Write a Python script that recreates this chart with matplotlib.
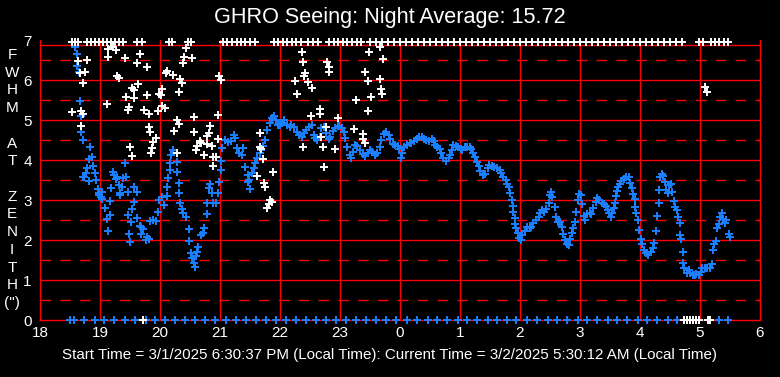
import numpy as np
import matplotlib
matplotlib.use("Agg")
import matplotlib.pyplot as plt

plt.rcParams["font.family"] = ["Liberation Sans", "DejaVu Sans"]
plt.rcParams["lines.scale_dashes"] = False

# hours since midnight of 3/1 (24 = 0h of 3/2)
blue_t = [18.53, 18.58, 18.61, 18.62, 18.65, 18.66, 18.68, 18.69, 18.71, 18.84, 18.86, 18.82,
          18.88, 18.79, 18.77, 18.74, 18.72, 18.92, 18.81, 18.94, 18.96, 18.99, 18.98, 19.01,
          19.04, 19.03, 19.08, 19.11, 19.16, 19.14, 19.18, 19.17, 19.21, 19.23, 19.28, 19.27,
          19.41, 19.43, 19.39, 19.31, 19.37, 19.34, 19.33, 19.46, 19.57, 19.61, 19.56, 19.54,
          19.47, 19.62, 19.52, 19.66, 19.69, 19.72, 19.49, 19.68, 19.50, 19.78, 19.81, 19.77,
          19.84, 19.89, 19.94, 19.97, 19.99,
          20.03, 20.07, 20.11, 20.12, 20.14, 20.16, 20.17, 20.19, 20.22, 20.28, 20.29, 20.31,
          20.32, 20.34, 20.36, 20.39, 20.43, 20.48, 20.49, 20.51, 20.53, 20.56, 20.58, 20.60,
          20.64, 20.61, 20.69, 20.72, 20.74, 20.78, 20.79, 20.83, 20.82, 20.86, 20.89, 20.93,
          20.97, 20.99, 21.01, 21.02, 21.04, 21.08, 21.14, 21.19, 21.25, 21.24, 21.29, 21.32,
          21.36, 21.39, 21.42, 21.46, 21.49, 21.50, 21.47, 21.53, 21.57, 21.58, 21.61, 21.66,
          21.69, 21.72, 21.75, 21.79, 21.83, 21.86, 21.90, 21.94, 21.97,
          22.00, 22.03, 22.07, 22.11, 22.16, 22.19, 22.23, 22.28, 22.32, 22.36, 22.40, 22.44,
          22.49, 22.53, 22.56, 22.58, 22.61, 22.66, 22.69, 22.73, 22.77, 22.81, 22.83, 22.88,
          22.92, 22.96, 22.99, 23.03, 23.07, 23.09, 23.12, 23.16, 23.18, 23.21, 23.25, 23.29,
          23.33, 23.38, 23.42, 23.46, 23.50, 23.54, 23.58, 23.62, 23.67, 23.69, 23.73, 23.77,
          23.81, 23.83, 23.88, 23.92, 23.96, 23.99,
          24.01, 24.04, 24.07, 24.11, 24.16, 24.19, 24.23, 24.28, 24.32, 24.36, 24.40, 24.44,
          24.49, 24.53, 24.56, 24.58, 24.62, 24.66, 24.69, 24.72, 24.77, 24.81, 24.83, 24.86,
          24.89, 24.93, 24.97, 25.01, 25.04, 25.08, 25.12, 25.17, 25.19, 25.22, 25.25, 25.29,
          25.32, 25.34, 25.38, 25.42, 25.46, 25.49, 25.53, 25.57, 25.61, 25.66, 25.69, 25.72,
          25.77, 25.79, 25.81, 25.83, 25.86, 25.88, 25.89, 25.91, 25.92, 25.94, 25.97, 25.99,
          26.01, 26.04, 26.08, 26.11, 26.16, 26.19, 26.22, 26.27, 26.31, 26.33, 26.36, 26.40,
          26.44, 26.48, 26.50, 26.52, 26.54, 26.58, 26.60, 26.63, 26.67, 26.70, 26.72, 26.75,
          26.78, 26.81, 26.83, 26.86, 26.89, 26.92, 26.94, 26.97, 26.99, 27.01, 27.04, 27.07,
          27.09, 27.12, 27.16, 27.19, 27.22, 27.26, 27.29, 27.32, 27.36, 27.40, 27.43, 27.46,
          27.49, 27.51, 27.53, 27.56, 27.58, 27.60, 27.62, 27.64, 27.67, 27.69, 27.73, 27.77,
          27.81, 27.83, 27.86, 27.89, 27.91, 27.92, 27.94, 27.97, 27.99,
          28.01, 28.03, 28.07, 28.10, 28.14, 28.18, 28.21, 28.23, 28.26, 28.28, 28.31, 28.32,
          28.34, 28.37, 28.39, 28.41, 28.43, 28.46, 28.49, 28.51, 28.54, 28.57, 28.59, 28.61,
          28.64, 28.66, 28.67, 28.69, 28.71, 28.72, 28.74, 28.78, 28.81, 28.84, 28.88, 28.91,
          28.94, 28.98, 29.01, 29.04, 29.08, 29.12, 29.17, 29.20, 29.22, 29.24, 29.27, 29.29,
          29.32, 29.34, 29.37, 29.39, 29.42, 29.44, 29.48, 29.50]
blue_v = [6.96, 6.83, 6.64, 6.35, 6.19, 5.47, 5.10, 4.69, 4.50, 4.32, 4.07, 4.02,
          3.85, 3.79, 3.68, 3.58, 3.57, 3.68, 3.47, 3.50, 3.28, 3.17, 3.13, 3.07,
          3.03, 3.20, 2.79, 2.53, 2.62, 2.23, 3.29, 2.98, 3.69, 3.63, 3.58, 3.52,
          3.92, 3.57, 3.56, 3.37, 3.33, 3.18, 3.13, 3.19, 3.33, 3.19, 2.94, 2.77,
          2.62, 2.54, 2.46, 2.36, 2.32, 2.27, 2.15, 2.15, 1.94, 2.08, 2.03, 2.00,
          2.47, 2.50, 2.48, 2.71, 3.00,
          3.08, 2.88, 3.10, 3.32, 3.54, 3.75, 3.93, 4.13, 4.25, 3.96, 3.69, 3.42,
          3.17, 2.93, 2.77, 2.67, 2.58, 2.27, 1.97, 1.67, 1.54, 1.43, 1.32, 1.60,
          1.83, 1.71, 2.13, 2.17, 2.31, 2.65, 2.93, 3.40, 3.29, 3.17, 2.92, 2.92,
          3.17, 3.46, 3.75, 3.98, 4.29, 4.50, 4.46, 4.48, 4.54, 4.62, 4.29, 4.17,
          4.13, 4.31, 3.83, 3.63, 3.50, 3.27, 3.46, 3.67, 3.79, 3.92, 4.04, 4.17,
          4.25, 4.35, 4.50, 4.75, 4.92, 5.04, 5.10, 5.00, 4.88,
          4.88, 4.93, 5.00, 4.88, 4.82, 4.88, 4.82, 4.71, 4.63, 4.58, 4.67, 4.75,
          4.83, 4.88, 4.63, 4.54, 4.50, 4.58, 4.79, 4.82, 4.67, 4.52, 4.58, 4.73,
          4.79, 4.85, 4.85, 4.79, 4.71, 4.54, 4.32, 4.13, 4.04, 4.21, 4.38, 4.35,
          4.25, 4.15, 4.10, 4.17, 4.25, 4.21, 4.13, 4.17, 4.33, 4.50, 4.65, 4.71,
          4.63, 4.52, 4.40, 4.38, 4.35, 4.27,
          4.04, 4.17, 4.32, 4.38, 4.42, 4.43, 4.48, 4.52, 4.58, 4.57, 4.52, 4.50,
          4.48, 4.52, 4.48, 4.38, 4.32, 4.27, 4.17, 4.04, 3.98, 4.04, 4.13, 4.25,
          4.38, 4.35, 4.32, 4.27, 4.25, 4.32, 4.33, 4.32, 4.27, 4.17, 4.07, 3.96,
          3.85, 3.73, 3.63, 3.65, 3.79, 3.88, 3.85, 3.83, 3.79, 3.75, 3.67, 3.58,
          3.50, 3.40, 3.33, 3.17, 3.00, 2.85, 2.71, 2.54, 2.40, 2.29, 2.17, 2.04,
          2.00, 2.13, 2.23, 2.32, 2.29, 2.33, 2.43, 2.50, 2.58, 2.67, 2.75, 2.71,
          2.77, 2.92, 3.13, 3.21, 3.08, 2.82, 2.58, 2.46, 2.46, 2.33, 2.15, 2.00,
          1.90, 1.88, 2.02, 2.17, 2.29, 2.46, 2.71, 3.00, 3.15, 3.13, 2.90, 2.60,
          2.50, 2.65, 2.67, 2.65, 2.79, 2.96, 3.05, 3.00, 2.93, 2.90, 2.85, 2.75,
          2.67, 2.58, 2.67, 2.79, 2.93, 3.10, 3.23, 3.33, 3.40, 3.48, 3.52, 3.58,
          3.57, 3.43, 3.29, 3.15, 3.02, 2.83, 2.68, 2.50, 2.25,
          2.02, 1.90, 1.75, 1.67, 1.63, 1.71, 1.79, 1.93, 2.23, 2.60, 2.93, 3.25,
          3.57, 3.65, 3.60, 3.46, 3.25, 3.17, 3.38, 3.40, 3.21, 2.98, 2.83, 2.75,
          2.57, 2.43, 2.13, 2.02, 1.69, 1.43, 1.29, 1.17, 1.25, 1.17, 1.13, 1.13,
          1.15, 1.13, 1.21, 1.29, 1.29, 1.29, 1.29, 1.40, 1.75, 1.90, 1.97, 2.29,
          2.40, 2.58, 2.68, 2.52, 2.43, 2.50, 2.15, 2.07]

white_t = [19.14, 19.22, 19.27, 18.78, 18.63, 19.14, 19.41, 19.66, 19.61, 19.78, 18.66, 18.75,
           19.29, 19.31, 18.72, 19.54, 19.57, 19.64, 19.79, 19.99, 19.44, 19.57, 19.11, 18.53,
           18.68, 18.71, 19.49, 19.47, 19.73, 19.81, 19.96, 18.69, 19.82, 19.84, 19.94, 19.89,
           19.86, 19.85, 19.50, 19.53,
           20.44, 20.40, 20.54, 20.38, 20.12, 20.10, 20.22, 20.34, 20.36, 20.32, 20.99, 21.01,
           20.04, 20.01, 20.04, 20.08, 20.56, 20.28, 20.31, 20.97, 20.83, 20.23, 20.57, 20.81,
           20.79, 20.66, 20.69, 20.62, 20.60, 20.78, 20.86, 20.96, 20.29, 20.73, 20.88, 20.94,
           20.89, 21.67, 21.66, 21.68, 21.71, 21.62, 21.89, 21.73, 21.75, 21.84, 21.81, 21.78,
           21.86,
           22.36, 22.38, 22.79, 22.82, 22.81, 22.42, 22.40, 22.25, 22.46, 22.53, 22.29, 22.66,
           22.67, 22.51, 22.96, 23.49, 23.66, 23.72, 23.42, 23.46, 23.67, 23.69, 23.70, 23.52,
           23.26, 23.47, 23.23, 23.38, 23.39, 23.41, 22.76, 22.69, 22.39, 22.71, 22.92, 22.73,
           29.08, 29.11]
white_v = [6.77, 6.83, 6.75, 6.50, 6.48, 6.57, 6.54, 6.64, 6.42, 6.32, 6.17, 6.19,
           6.10, 6.04, 5.93, 5.79, 5.75, 5.90, 5.63, 5.65, 5.57, 5.54, 5.39, 5.20,
           5.23, 5.15, 5.32, 5.25, 5.25, 5.15, 5.22, 4.86, 4.82, 4.69, 4.54, 4.46,
           4.29, 4.18, 4.33, 4.10,
           6.79, 6.57, 6.54, 6.42, 6.23, 6.17, 6.13, 6.02, 5.92, 5.71, 6.10, 6.00,
           5.77, 5.63, 5.35, 5.29, 5.08, 5.00, 4.90, 5.13, 4.85, 4.73, 4.69, 4.68,
           4.60, 4.48, 4.42, 4.35, 4.25, 4.40, 4.35, 4.52, 4.17, 4.12, 4.07, 4.07,
           3.85, 4.67, 4.33, 4.27, 4.03, 3.60, 3.70, 3.43, 3.32, 3.00, 2.90, 2.79,
           2.96,
           6.69, 6.46, 6.44, 6.33, 6.19, 6.17, 6.11, 5.98, 5.96, 5.79, 5.65, 5.27,
           5.14, 5.10, 5.04, 6.69, 6.82, 6.52, 6.21, 5.98, 6.02, 5.77, 5.65, 5.58,
           5.50, 5.22, 4.77, 4.64, 4.52, 4.42, 4.83, 4.58, 4.32, 4.32, 4.27, 3.82,
           5.83, 5.71]

# readings pinned at the top edge of the scale (white)
top_t = [18.53, 18.58, 18.63, 18.78, 18.85, 18.92, 18.98, 19.05, 19.12, 19.18, 19.25, 19.32,
         19.38, 19.62, 19.70, 20.15, 20.20, 20.47, 20.52, 21.05, 21.12, 21.20, 21.28, 21.35,
         21.42, 21.50, 21.58, 21.90, 21.97, 22.05, 22.12, 22.20, 22.27, 22.35, 22.47, 22.55,
         22.63, 22.82, 22.90, 22.97, 23.05, 23.12, 23.20, 23.28, 23.35, 23.50, 23.60, 23.70,
         23.80, 23.90, 24.00, 24.10, 24.20, 24.30, 24.40, 24.50, 24.60, 24.70, 24.80, 24.90,
         25.00, 25.10, 25.20, 25.30, 25.40, 25.50, 25.60, 25.70, 25.80, 25.90, 26.00, 26.10,
         26.20, 26.30, 26.40, 26.50, 26.60, 26.70, 26.80, 26.90, 27.00, 27.10, 27.20, 27.30,
         27.40, 27.50, 27.60, 27.70, 27.80, 27.90, 28.00, 28.10, 28.20, 28.30, 28.40, 28.50,
         28.60, 28.70, 28.98, 29.05, 29.18, 29.25, 29.32, 29.40, 29.47]
top_v = 6.95

# readings pinned at zero
zero_blue_t = [18.50, 18.57, 18.74, 18.91, 19.07, 19.24, 19.42, 19.59, 19.76, 19.92, 20.08,
               20.25, 20.42, 20.58, 20.75, 20.92, 21.10, 21.27, 21.43, 21.60, 21.77, 21.93,
               22.10, 22.27, 22.43, 22.60, 22.77, 22.93, 23.10, 23.27, 23.43, 23.60, 23.77,
               23.93, 24.12, 24.28, 24.46, 24.61, 24.79, 24.96, 25.12, 25.29, 25.46, 25.62,
               25.79, 25.94, 26.12, 26.29, 26.46, 26.62, 26.79, 26.96, 27.12, 27.29, 27.46,
               27.62, 27.79, 27.96, 28.12, 28.29, 28.46, 28.62, 29.31, 29.47]
zero_white_t = [19.72, 28.74, 28.78, 28.83, 28.88, 28.93, 28.98, 29.14, 29.17]

hour_labels = ["18", "19", "20", "21", "22", "23", "0", "1", "2", "3", "4", "5", "6"]
title = "GHRO Seeing: Night Average: 15.72"
footer = ("Start Time = 3/1/2025 6:30:37 PM (Local Time): "
          "Current Time = 3/2/2025 5:30:12 AM (Local Time)")
ylabel = 'F\nW\nH\nM\n\nA\nT\n\nZ\nE\nN\nI\nT\nH\n(")'

BLUE = "#1a80ff"
RED = "#ff0000"

fig = plt.figure(figsize=(7.8, 3.77), dpi=100, facecolor="black")
ax = fig.add_axes([40 / 780, 57 / 377, 720 / 780, 280 / 377], facecolor="black")

ax.set_xlim(18, 30)
ax.set_ylim(0, 7)

# grid: solid at whole units, dashed at half units
for x in range(19, 30):
    ax.axvline(x, color=RED, lw=1.0, zorder=1)
for y in range(1, 7):
    ax.axhline(y, color=RED, lw=1.0, zorder=1)
for y in np.arange(0.5, 7, 1.0):
    ax.axhline(y, color=RED, lw=1.0, ls=(0, (7.5, 6.8)), zorder=1)
ax.axhline(6.88, color=RED, lw=1.0, zorder=1)

for s in ["left", "right", "bottom"]:
    ax.spines[s].set_color(RED)
    ax.spines[s].set_linewidth(1.0)
ax.spines["top"].set_visible(False)

mk = dict(marker="+", ls="none", ms=5.5, mew=1.4, clip_on=False, zorder=3)
ax.plot(blue_t, blue_v, color=BLUE, **mk)
ax.plot(zero_blue_t, np.zeros(len(zero_blue_t)), color=BLUE, **mk)
ax.plot(white_t, white_v, color="white", **mk)
ax.plot(top_t, np.full(len(top_t), top_v), color="white", **mk)
ax.plot(zero_white_t, np.zeros(len(zero_white_t)), color="white", **mk)

ax.set_xticks(range(18, 31))
ax.set_xticklabels(hour_labels)
ax.set_yticks(range(0, 8))
ax.tick_params(length=0, colors="white", labelsize=11, pad=4)
ax.tick_params(axis="y", pad=6)

fig.text(0.5, 1 - 18 / 377, title, color="white", fontsize=15.6,
         ha="center", va="center")
fig.text(390 / 780, 1 - 355 / 377, footer, color="white", fontsize=10.9,
         ha="center", va="center")
fig.text(12 / 780, 1 - 179 / 377, ylabel, color="white", fontsize=11,
         ha="center", va="center", linespacing=1.34)

fig.savefig("out.png", dpi=100, facecolor="black")
